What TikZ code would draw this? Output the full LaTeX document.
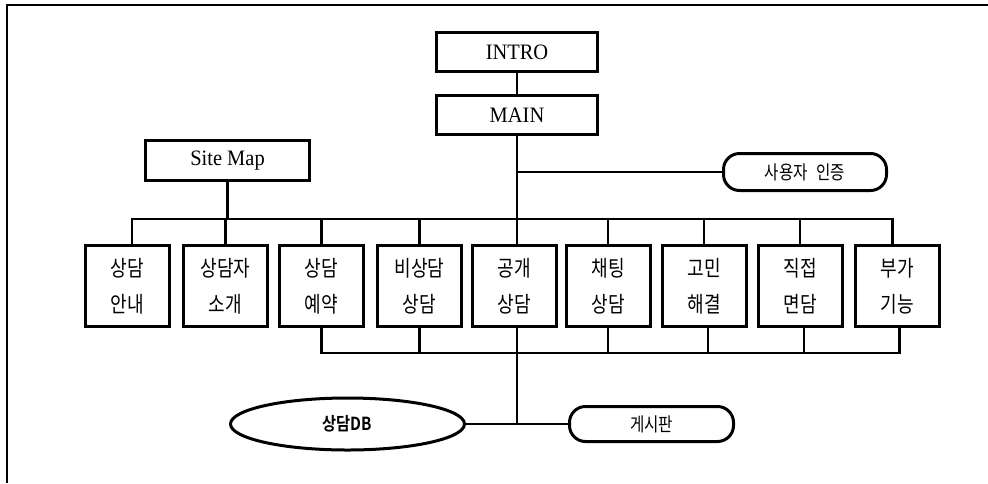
\documentclass[tikz,border=0pt]{standalone}
\usepackage{fontspec}
\usetikzlibrary{shapes.geometric}
\setmainfont{Liberation Serif}
\newfontfamily\lat[FakeStretch=0.93]{Liberation Serif}
\newfontfamily\kr[FakeStretch=0.82]{Noto Sans CJK KR}
\newfontfamily\krb[FakeStretch=0.85]{Noto Sans CJK KR Bold}
\begin{document}
\begin{tikzpicture}[x=1pt,y=-1pt,
  conn/.style={line width=2.2pt},
  sq/.style={draw,line width=3pt,inner sep=0pt},
  mbox/.style={sq,minimum width=84pt,minimum height=81pt,font=\kr\fontsize{22}{36}\selectfont,align=center},
  tbox/.style={sq,minimum width=161pt,minimum height=39pt,font=\lat\fontsize{22}{26}\selectfont},
  pill/.style={draw,line width=3pt,rounded corners=16pt,inner sep=0pt,font=\kr\fontsize{19}{22}\selectfont}
]
\useasboundingbox (0,0) rectangle (988,483);
\fill[white] (0,0) rectangle (988,483);
\draw[line width=1.5pt] (7,483) -- (7,5) -- (988,5);

% top nodes
\node[tbox] (intro) at (517,52) {INTRO};
\node[tbox] (main) at (517,115) {MAIN};
\node[tbox,minimum width=164pt,minimum height=40pt] (sitemap) at (227.5,160.5) {Site Map};
\node[pill,minimum width=163pt,minimum height=37pt] (auth) at (805,172) {사용자\hspace{9pt}인증};

% menu boxes
\node[mbox] (b1) at (127,286) {상담\\안내};
\node[mbox] (b2) at (225.5,286) {상담자\\소개};
\node[mbox] (b3) at (321.5,286) {상담\\예약};
\node[mbox] (b4) at (419.5,286) {비상담\\상담};
\node[mbox] (b5) at (514,286) {공개\\상담};
\node[mbox] (b6) at (608,286) {채팅\\상담};
\node[mbox] (b7) at (704,286) {고민\\해결};
\node[mbox] (b8) at (800,286) {직접\\면담};
\node[mbox] (b9) at (897.5,286) {부가\\기능};

% bottom nodes
\node[draw,ellipse,line width=3pt,inner sep=0pt,minimum width=234pt,minimum height=52pt,font=\krb\fontsize{18}{22}\selectfont] (db) at (347.5,424) {상담DB};
\node[pill,minimum width=164pt,minimum height=35pt] (board) at (651.5,424) {게시판};

\coordinate (bus) at (0,219);
\coordinate (low) at (0,353);

% connectors
\draw[conn] (intro.south) -- (main.north);
\draw[conn] (main.south) -- (main.south |- b5.north);
\draw[conn] (main.south |- auth.west) -- (auth.west);
\draw[conn] (sitemap.south) -- (sitemap.south |- bus);
\draw[conn] ([xshift=5pt]b1.north) |- ([xshift=-5pt]b9.north |- bus) -- ([xshift=-5pt]b9.north);
\foreach \b in {b2,b3,b4,b6,b7,b8}{
  \draw[conn] (\b.north) -- (\b.north |- bus);
}
\draw[conn] (b3.south) |- ([xshift=2pt]b9.south |- low) -- ([xshift=2pt]b9.south);
\foreach \b in {b4,b6}{
  \draw[conn] (\b.south) -- (\b.south |- low);
}
\draw[conn] ([xshift=4pt]b7.south) -- ([xshift=4pt]b7.south |- low);
\draw[conn] ([xshift=4pt]b8.south) -- ([xshift=4pt]b8.south |- low);
\draw[conn] (b5.south -| main.south) -- (main.south |- db.east);
\draw[conn] (db.east) -- (board.west);
\end{tikzpicture}
\end{document}
